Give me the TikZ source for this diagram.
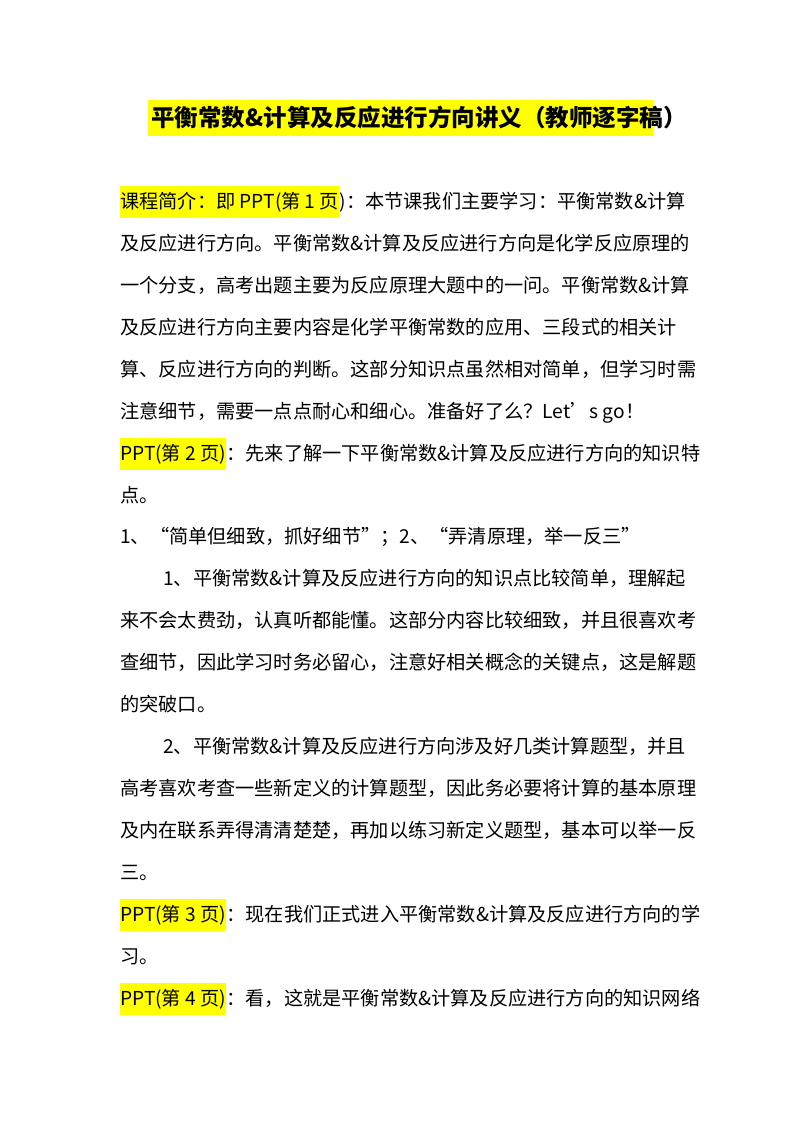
\documentclass[tikz,border=0pt]{standalone}
\usepackage{fontspec}
\setmainfont{Noto Sans CJK SC}
\definecolor{hl}{RGB}{255,255,0}
\begin{document}
\begin{tikzpicture}[x=1pt,y=-1pt,
  txt/.style={anchor=base west,inner sep=0pt,font=\fontsize{19.2}{24}\selectfont},
  hlt/.style={txt,fill=hl,inner ysep=6pt,inner xsep=0pt}]
\useasboundingbox (0,0) rectangle (800,1132);
\fill[hl] (148,100) rectangle (653,136);
\node[anchor=base,inner sep=0pt,font=\fontsize{23.5}{26}\selectfont\bfseries] (title) at (419,126) {平衡常数\&计算及反应进行方向讲义（教师逐字稿）};
\node[hlt] (h1) at (120,208) {课程简介：即 PPT(第 1 页};
\node[txt] (l0) at (h1.base east) {)：本节课我们主要学习：平衡常数\&计算};
\node[txt] (l1) at (120,250) {及反应进行方向。平衡常数\&计算及反应进行方向是化学反应原理的};
\node[txt] (l2) at (120,292) {一个分支，高考出题主要为反应原理大题中的一问。平衡常数\&计算};
\node[txt] (l3) at (120,334) {及反应进行方向主要内容是化学平衡常数的应用、三段式的相关计};
\node[txt] (l4) at (120,376) {算、反应进行方向的判断。这部分知识点虽然相对简单，但学习时需};
\node[txt] (l5) at (120,418) {注意细节，需要一点点耐心和细心。准备好了么？Let’s go！};
\node[hlt] (h2) at (120,460) {PPT(第 2 页)};
\node[txt] (l6) at (h2.base east) {：先来了解一下平衡常数\&计算及反应进行方向的知识特};
\node[txt] (l7) at (120,502) {点。};
\node[txt] (l8) at (120,543) {1、“简单但细致，抓好细节”；2、“弄清原理，举一反三”};
\node[txt] (l9) at (163,585) {1、平衡常数\&计算及反应进行方向的知识点比较简单，理解起};
\node[txt] (l10) at (120,627) {来不会太费劲，认真听都能懂。这部分内容比较细致，并且很喜欢考};
\node[txt] (l11) at (120,669) {查细节，因此学习时务必留心，注意好相关概念的关键点，这是解题};
\node[txt] (l12) at (120,711) {的突破口。};
\node[txt] (l13) at (163,753) {2、平衡常数\&计算及反应进行方向涉及好几类计算题型，并且};
\node[txt] (l14) at (120,795) {高考喜欢考查一些新定义的计算题型，因此务必要将计算的基本原理};
\node[txt] (l15) at (120,837) {及内在联系弄得清清楚楚，再加以练习新定义题型，基本可以举一反};
\node[txt] (l16) at (120,879) {三。};
\node[hlt] (h3) at (120,921) {PPT(第 3 页)};
\node[txt] (l17) at (h3.base east) {：现在我们正式进入平衡常数\&计算及反应进行方向的学};
\node[txt] (l18) at (120,963) {习。};
\node[hlt] (h4) at (120,1005) {PPT(第 4 页)};
\node[txt] (l19) at (h4.base east) {：看，这就是平衡常数\&计算及反应进行方向的知识网络};
\end{tikzpicture}
\end{document}
